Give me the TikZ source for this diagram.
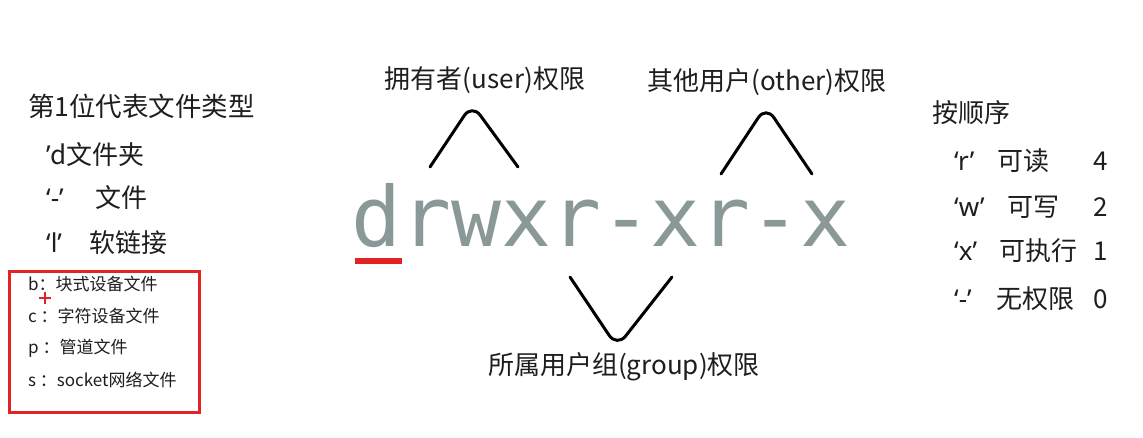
\documentclass[tikz,border=0pt]{standalone}
\usepackage{fontspec}
\newfontfamily\cjk{Noto Sans CJK SC}
\newfontfamily\lat{Noto Sans}
\newfontfamily\monof{DejaVu Sans Mono}
\definecolor{txtc}{RGB}{30,30,30}
\definecolor{bigc}{RGB}{138,152,152}
\definecolor{redc}{RGB}{225,35,35}
\tikzset{
  txt/.style={font=\cjk\fontsize{26}{26}\selectfont, text=txtc, inner sep=0pt, anchor=west},
  smalltxt/.style={font=\cjk\fontsize{17}{17}\selectfont, text=txtc, inner sep=0pt, anchor=west},
  bigtxt/.style={font=\monof\fontsize{83}{83}\selectfont, text=bigc, inner sep=0pt, anchor=base west},
  bracket/.style={line width=3pt, line cap=round, line join=round, rounded corners=14pt, draw=black},
  redbox/.style={draw=redc, line width=3pt},
}
\begin{document}
\begin{tikzpicture}[x=1pt,y=-1pt]
\useasboundingbox[fill=white] (0,0) rectangle (1143,438);
% left column
\node[txt] (type) at (28,106) {\fontsize{26.5}{26.5}\selectfont 第1位代表文件类型};
\node[txt] (dir) at (46,155) {{\lat ’}d文件夹};
\node[txt] (fileq) at (46,198) {{\lat ‘-’}};
\node[txt] (file) at (95,198) {文件};
\node[txt] (linkq) at (46,243) {{\lat ‘l’}};
\node[txt] (link) at (89,243) {软链接};
% red box
\node[redbox, minimum width=190pt, minimum height=141pt, anchor=north west, inner sep=0pt] (box) at (8,270) {};
\node[smalltxt] (b) at (28,284) {b：块式设备文件};
\node[smalltxt] (c) at (28,316) {c ：字符设备文件};
\node[smalltxt] (p) at (28,348) {p ：管道文件};
\node[smalltxt] (s) at (28,380) {s ：socket网络文件};
\draw[redc, line width=1.6pt] (39,298) -- (51,298) (45,292) -- (45,304);
% big permission string
\node[bigtxt] (perm) at (351,247) {drwxr-xr-x};
\fill[redc] (355,258.5) rectangle (402,264);
% labels
\node[txt, anchor=center] (user) at (485,80) {拥有者(user)权限};
\node[txt, anchor=center] (other) at (767,82) {其他用户(other)权限};
\node[txt, anchor=center] (group) at (624,367) {所属用户组(group)权限};
% brackets
\coordinate (u1) at (430,167); \coordinate (u2) at (472,104); \coordinate (u3) at (518,167);
\coordinate (o1) at (721,174); \coordinate (o2) at (766,106); \coordinate (o3) at (812,174);
\coordinate (g1) at (570,277); \coordinate (g2) at (617,347); \coordinate (g3) at (672,277);
\draw[bracket] (u1) -- (u2) -- (u3);
\draw[bracket] (o1) -- (o2) -- (o3);
\draw[bracket] (g1) -- (g2) -- (g3);
% right column
\node[txt] (order) at (932,113) {按顺序};
\node[txt] (r) at (954,161) {{\lat ‘r’}};
\node[txt] (rr) at (997,161) {可读};
\node[txt] (r4) at (1093,161) {4};
\node[txt] (w) at (954,207) {{\lat ‘w’}};
\node[txt] (ww) at (1007,207) {可写};
\node[txt] (w2) at (1093,207) {2};
\node[txt] (x) at (954,251) {{\lat ‘x’}};
\node[txt] (xx) at (999,251) {可执行};
\node[txt] (x1) at (1093,251) {1};
\node[txt] (n) at (954,299) {{\lat ‘-’}};
\node[txt] (nn) at (996,299) {无权限};
\node[txt] (n0) at (1093,299) {0};
\end{tikzpicture}
\end{document}
